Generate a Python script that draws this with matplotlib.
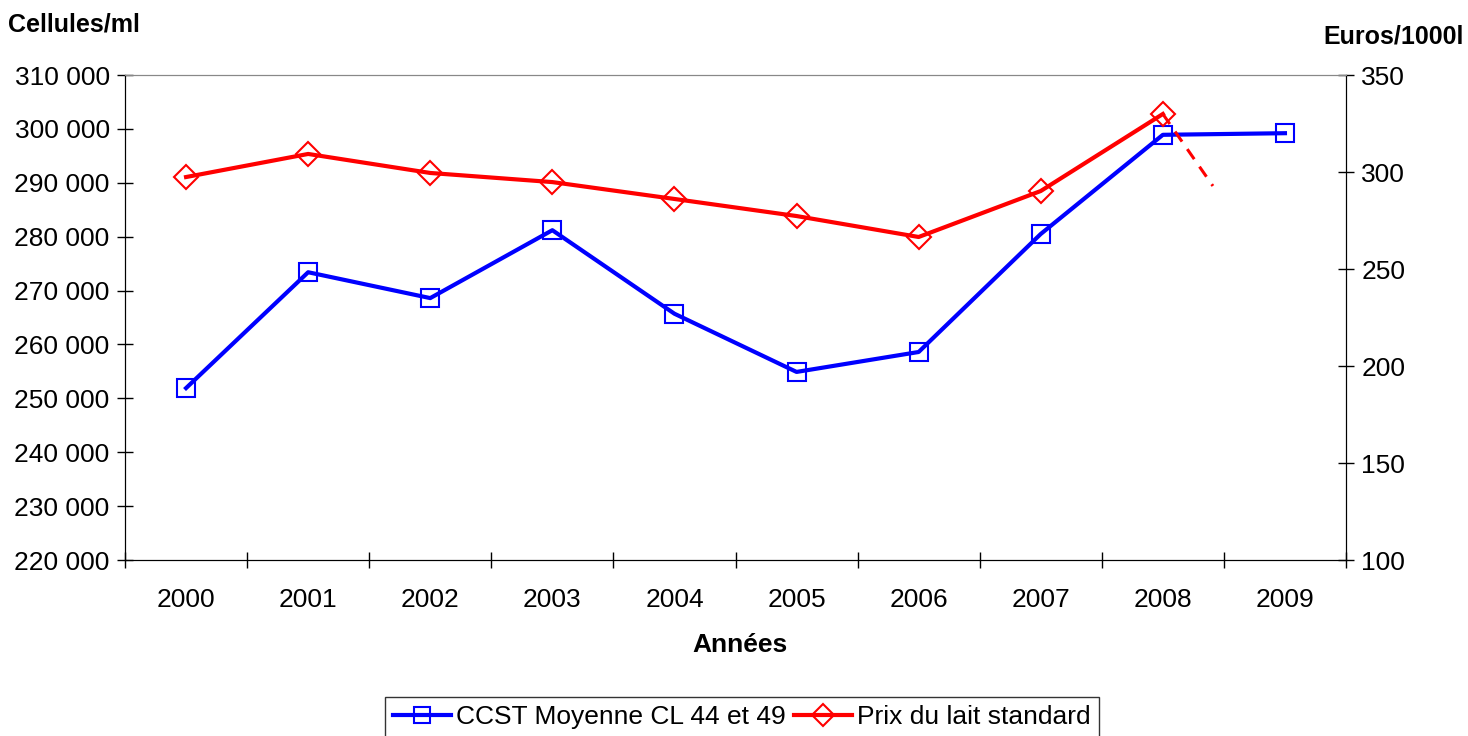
import numpy as np
import matplotlib
matplotlib.use('Agg')
import matplotlib.pyplot as plt
from matplotlib.ticker import FuncFormatter

plt.rcParams['font.family'] = ['Liberation Sans', 'DejaVu Sans']

# data
years = ['2000', '2001', '2002', '2003', '2004', '2005', '2006', '2007', '2008', '2009']
ccst = [251900, 273400, 268600, 281200, 265700, 254900, 258600, 280500, 298900, 299200]
prix = [297.4, 309.3, 299.5, 294.8, 286.1, 277.3, 266.5, 290.2, 329.9]
# dashed continuation after 2008
prix_dash_x = [8, 8.41]
prix_dash_y = [329.9, 292.8]

fig = plt.figure(figsize=(14.68, 7.36), dpi=100)
ax = fig.add_axes([125 / 1468, 1 - 560 / 736, 1221 / 1468, 485 / 736])
ax2 = ax.twinx()

x = np.arange(len(years))
l1, = ax.plot(x, ccst, color='#0000ff', lw=3, marker='s', ms=13,
              mfc='none', mec='#0000ff', mew=1.5, zorder=3)
l2, = ax2.plot(x[:len(prix)], prix, color='#ff0000', lw=3, marker='D', ms=12,
               mfc='none', mec='#ff0000', mew=1.5, zorder=3)
ax2.plot(prix_dash_x, prix_dash_y, color='#ff0000', lw=2.2, ls=(0, (4, 3)))

ax.set_xlim(-0.5, len(years) - 0.5)
ax.set_ylim(220000, 310000)
ax.set_yticks(np.arange(220000, 310001, 10000))
ax.yaxis.set_major_formatter(FuncFormatter(lambda v, p: f'{int(v):,}'.replace(',', ' ')))
ax2.set_ylim(100, 350)
ax2.set_yticks(np.arange(100, 351, 50))

ax.set_xticks(np.arange(-0.5, len(years), 1))
ax.set_xticklabels([])
ax.set_xticks(x, minor=True)
ax.set_xticklabels(years, minor=True)
ax.tick_params(axis='x', which='minor', length=0, labelsize=19, pad=20)
ax.tick_params(axis='x', which='major', direction='inout', length=12, width=1)
ax.tick_params(axis='y', direction='inout', length=12, width=1, labelsize=19, pad=5)
ax2.tick_params(axis='y', direction='inout', length=12, width=1, labelsize=19, pad=5)

for a in (ax, ax2):
    a.spines['top'].set_color('#888888')
    a.spines['left'].set_color('black')
    a.spines['right'].set_color('black')
    a.spines['bottom'].set_color('black')

fig.text(8 / 1468, 1 - 25 / 736, 'Cellules/ml', fontsize=18, fontweight='bold',
         va='center', ha='left')
fig.text(1464 / 1468, 1 - 37 / 736, 'Euros/1000l', fontsize=18, fontweight='bold',
         va='center', ha='right')
fig.text(740 / 1468, 1 - 645 / 736, 'Années', fontsize=19, fontweight='bold',
         va='center', ha='center')

leg = fig.legend([l1, l2], ['CCST Moyenne CL 44 et 49', 'Prix du lait standard'],
                 loc='upper center', bbox_to_anchor=(742 / 1468, 1 - 697 / 736),
                 ncol=2, fontsize=19, frameon=True, fancybox=False,
                 edgecolor='black', handlelength=2.2, handletextpad=0.2,
                 columnspacing=0.3, borderpad=0.3, borderaxespad=0,
                 markerscale=0.9)
leg.get_frame().set_linewidth(1)

fig.savefig('out.png', dpi=100)
